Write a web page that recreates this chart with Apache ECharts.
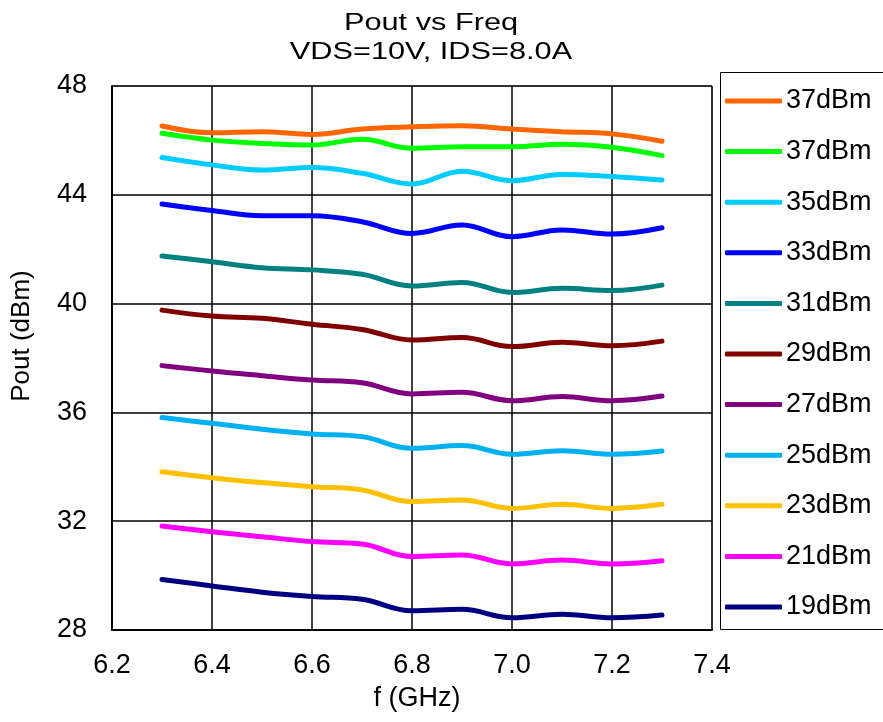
<!DOCTYPE html>
<html>
<head>
<meta charset="utf-8">
<script src="https://cdn.jsdelivr.net/npm/echarts@6/dist/echarts.min.js"></script>
<style>
html,body{margin:0;padding:0;background:#fff;}
#chart{width:883px;height:722px;}
</style>
</head>
<body>
<div id="chart"></div>
<script>
// Frequencies (GHz)
const freqs = [6.3, 6.4, 6.5, 6.6, 6.7, 6.8, 6.9, 7.0, 7.1, 7.2, 7.3];
// Series names (legend labels)
const seriesNames = ["37dBm", "37dBm ", "35dBm", "33dBm", "31dBm", "29dBm", "27dBm", "25dBm", "23dBm", "21dBm", "19dBm"];
// Pout values (dBm)
const p37a = [46.53, 46.28, 46.32, 46.22, 46.42, 46.50, 46.54, 46.42, 46.32, 46.24, 45.97];
const p37b = [46.26, 46.01, 45.89, 45.83, 46.04, 45.71, 45.77, 45.77, 45.86, 45.75, 45.44];
const p35  = [45.37, 45.10, 44.91, 45.00, 44.79, 44.40, 44.87, 44.52, 44.75, 44.67, 44.54];
const p33  = [43.66, 43.42, 43.23, 43.23, 43.01, 42.58, 42.89, 42.46, 42.71, 42.56, 42.79];
const p31  = [41.75, 41.54, 41.32, 41.24, 41.08, 40.65, 40.78, 40.41, 40.56, 40.48, 40.68];
const p29  = [39.76, 39.54, 39.46, 39.24, 39.05, 38.66, 38.75, 38.42, 38.58, 38.45, 38.62];
const p27  = [37.72, 37.52, 37.35, 37.19, 37.09, 36.68, 36.74, 36.43, 36.58, 36.43, 36.60];
const p25  = [35.81, 35.60, 35.38, 35.21, 35.11, 34.68, 34.78, 34.46, 34.59, 34.46, 34.58];
const p23  = [33.82, 33.60, 33.42, 33.27, 33.15, 32.72, 32.78, 32.47, 32.62, 32.47, 32.62];
const p21  = [31.82, 31.61, 31.43, 31.25, 31.16, 30.70, 30.76, 30.43, 30.57, 30.43, 30.55];
const p19  = [29.86, 29.62, 29.39, 29.23, 29.13, 28.71, 28.76, 28.45, 28.58, 28.45, 28.55];
const allValues = [p37a, p37b, p35, p33, p31, p29, p27, p25, p23, p21, p19];
const colors = ["#FF6600", "#00FF00", "#00CCFF", "#0000FF", "#008080", "#800000", "#800080", "#00B0F0", "#FFC000", "#FF00FF", "#000080"];
// Texts
const titleLines = ["Pout vs Freq", "VDS=10V, IDS=8.0A"];
const xName = "f (GHz)";
const yName = "Pout (dBm)";

const FONT = "Liberation Sans, Arial, sans-serif";

const chart = echarts.init(document.getElementById('chart'), null, {renderer: 'canvas'});

const series = seriesNames.map((name, i) => ({
  name: name,
  type: 'line',
  smooth: 0.4,
  symbol: 'none',
  data: freqs.map((f, j) => [f, allValues[i][j]]),
  lineStyle: {color: colors[i], width: 5, cap: 'round'},
  itemStyle: {color: colors[i]},
  z: 3
}));

chart.setOption({
  animation: false,
  backgroundColor: '#fff',
  color: colors,
  grid: {
    left: 112, right: 171, top: 86, bottom: 92,
    show: true, borderColor: '#808080', borderWidth: 1
  },
  legend: {
    orient: 'vertical',
    left: 725,
    top: 86,
    padding: 0,
    itemWidth: 57,
    itemHeight: 5,
    itemGap: 20.6,
    icon: 'roundRect',
    textStyle: {fontFamily: FONT, fontSize: 27, color: '#000', lineHeight: 30, padding: [0, 0, 0, -1]},
    data: seriesNames
  },
  graphic: [
    {
      type: 'rect',
      shape: {x: 720.5, y: 72.5, width: 170, height: 557},
      style: {fill: 'none', stroke: '#000', lineWidth: 1},
      silent: true
    },
    {
      type: 'text', x: 431, y: 23, scaleX: 1.28,
      style: {text: titleLines[0], font: '24px ' + FONT, fill: '#000', textAlign: 'center', textVerticalAlign: 'middle'},
      silent: true
    },
    {
      type: 'text', x: 431, y: 52, scaleX: 1.28,
      style: {text: titleLines[1], font: '24px ' + FONT, fill: '#000', textAlign: 'center', textVerticalAlign: 'middle'},
      silent: true
    },
    {
      type: 'text', x: 417, y: 699,
      style: {text: xName, font: '27px ' + FONT, fill: '#000', textAlign: 'center', textVerticalAlign: 'middle'},
      silent: true
    },
    {
      type: 'text', x: 22, y: 336, rotation: Math.PI / 2,
      style: {text: yName, font: '26px ' + FONT, fill: '#000', textAlign: 'center', textVerticalAlign: 'middle'},
      silent: true
    }
  ],
  xAxis: {
    type: 'value',
    min: 6.2, max: 7.4, interval: 0.2,
    axisLine: {show: true, lineStyle: {color: '#000', width: 2}},
    axisTick: {show: false},
    axisLabel: {fontFamily: FONT, fontSize: 27, color: '#000', margin: 22, formatter: v => v.toFixed(1)},
    splitLine: {show: true, lineStyle: {color: '#000', width: 1.5}}
  },
  yAxis: {
    type: 'value',
    min: 28, max: 48, interval: 4,
    axisLine: {show: true, lineStyle: {color: '#000', width: 2}},
    axisTick: {show: false},
    axisLabel: {fontFamily: FONT, fontSize: 27, color: '#000', margin: 25},
    splitLine: {show: true, lineStyle: {color: '#000', width: 1.5}}
  },
  series: series
});
</script>
</body>
</html>
